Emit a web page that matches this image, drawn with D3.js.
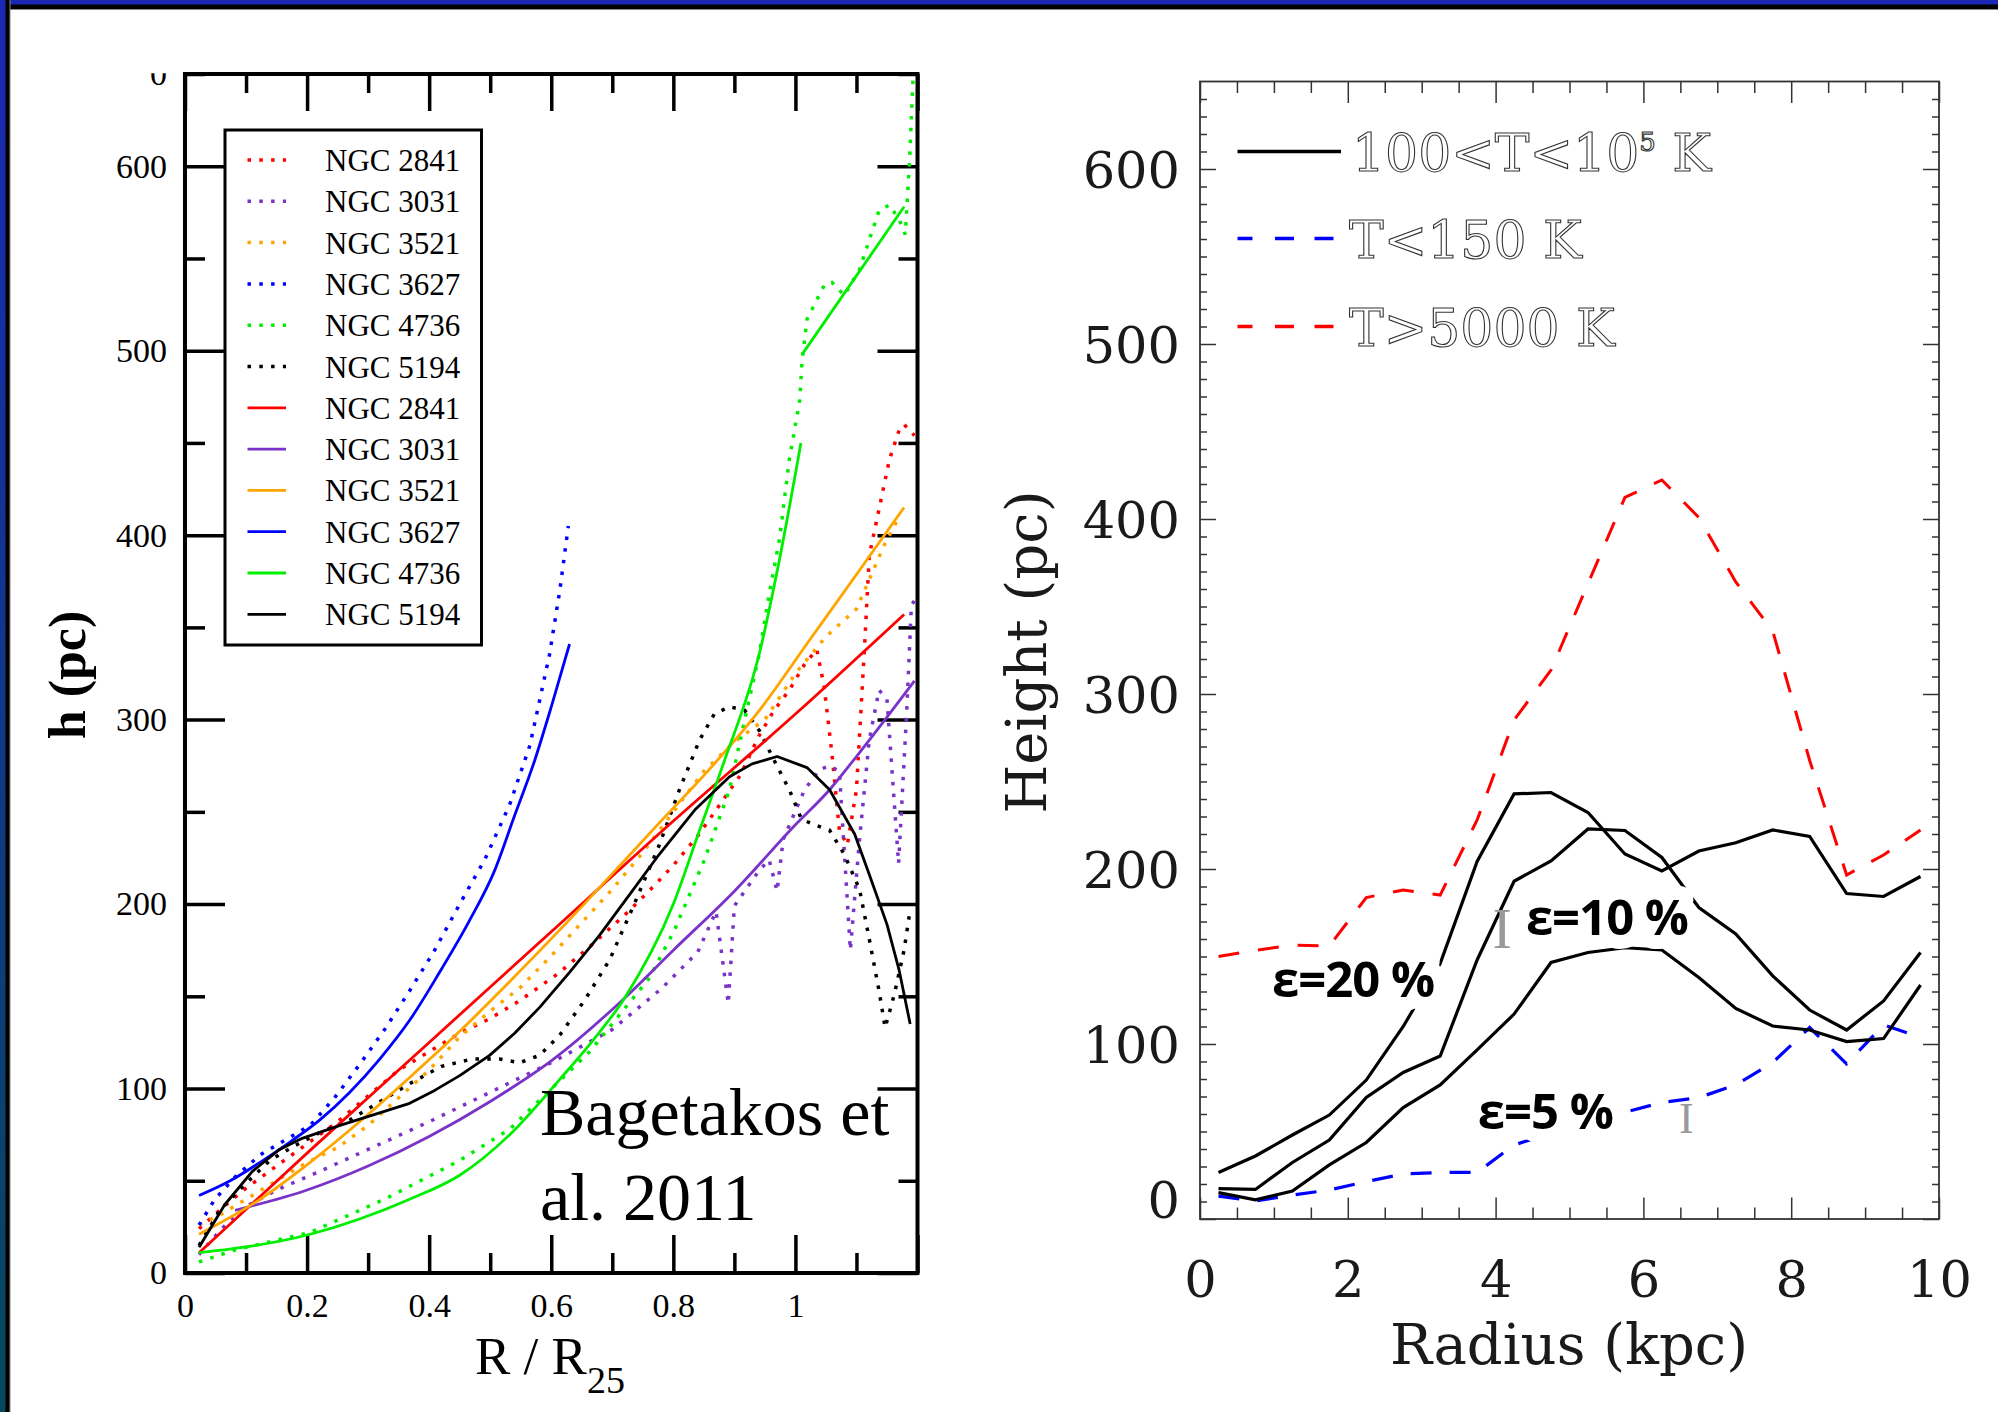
<!DOCTYPE html>
<html>
<head>
<meta charset="utf-8">
<script src="https://cdn.jsdelivr.net/npm/d3@7"></script>
<style>
  body { margin: 0; background: #fff; }
  svg { display: block; }
</style>
</head>
<body>
<svg id="chart"></svg>
<script>
// ---------- left panel data: [R/R25, h (pc)] ----------
const n2841Data = [[0.023,24],[0.06,35],[0.10,46],[0.15,58],[0.20,70],[0.25,82],[0.30,96],[0.35,110],[0.40,120],[0.45,130],[0.50,138],[0.55,148],[0.61,162],[0.66,176],[0.72,194],[0.76,207],[0.80,221],[0.84,237],[0.87,251],[0.91,270],[0.94,291],[0.965,305],[0.99,316],[1.015,330],[1.035,338],[1.047,318],[1.06,281],[1.072,240],[1.085,232],[1.10,262],[1.113,338],[1.121,389],[1.137,414],[1.154,441],[1.17,457],[1.178,460],[1.195,454]];
const n3031Data = [[0.023,10],[0.06,24],[0.10,36],[0.15,45],[0.22,55],[0.30,67],[0.40,82],[0.50,98],[0.60,114],[0.70,132],[0.78,154],[0.84,174],[0.87,196],[0.89,146],[0.90,199],[0.94,218],[0.957,224],[0.97,207],[0.98,235],[1.015,262],[1.04,273],[1.056,275],[1.072,272],[1.09,175],[1.105,235],[1.121,289],[1.137,316],[1.15,311],[1.169,222],[1.182,302],[1.19,362],[1.196,365]];
const n3521Data = [[0.023,26],[0.06,32],[0.10,40],[0.15,50],[0.20,60],[0.25,68],[0.30,80],[0.35,95],[0.40,110],[0.45,128],[0.50,142],[0.55,155],[0.60,172],[0.65,190],[0.70,208],[0.75,228],[0.80,250],[0.85,272],[0.90,288],[0.95,300],[1.00,325],[1.05,345],[1.10,360],[1.146,395],[1.17,410]];
const n3627Data = [[0.023,26],[0.049,40],[0.082,52],[0.123,64],[0.164,72],[0.205,80],[0.245,95],[0.286,113],[0.327,132],[0.368,153],[0.409,175],[0.45,200],[0.491,224],[0.532,254],[0.565,286],[0.597,335],[0.614,370],[0.628,405]];
const n4736Data = [[0.023,6],[0.082,12.5],[0.205,22],[0.327,40],[0.45,61],[0.532,78],[0.663,120],[0.761,160],[0.802,186],[0.851,224],[0.892,262],[0.917,300],[0.941,336],[0.957,368],[0.974,398],[0.99,441],[1.007,473],[1.011,495],[1.019,517],[1.048,536],[1.06,537],[1.08,530],[1.105,544],[1.137,576],[1.154,579],[1.17,571],[1.18,563],[1.187,603],[1.193,650]];
const n5194Data = [[0.023,15],[0.057,34],[0.098,48],[0.139,61],[0.18,69],[0.22,76],[0.27,83],[0.32,93],[0.37,103],[0.42,112],[0.47,116],[0.516,116],[0.548,114],[0.581,118],[0.614,129],[0.655,148],[0.696,170],[0.736,200],[0.777,232],[0.81,262],[0.843,289],[0.867,303],[0.892,307],[0.917,305],[0.941,294],[0.965,278],[0.99,262],[1.01,246],[1.031,243],[1.056,240],[1.08,227],[1.105,208],[1.121,181],[1.137,153],[1.147,133],[1.162,151],[1.178,175],[1.188,197]];

// fitted curves
const n2841Fit = [[0.023,11],[0.2,65],[0.4,125],[0.6,185],[0.8,245],[1.0,303],[1.178,357]];
const n3031Fit = [[0.082,34],[0.2,45],[0.3,58],[0.4,74],[0.5,93],[0.6,115],[0.72,149],[0.8,175],[0.9,207],[1.0,243],[1.056,262],[1.1,280],[1.195,321]];
const n3521Fit = [[0.023,21],[0.123,40],[0.205,60],[0.286,82],[0.368,106],[0.45,131],[0.532,158],[0.614,186],[0.696,215],[0.777,244],[0.859,273],[0.941,305],[1.023,343],[1.105,381],[1.178,415]];
const n3627Fit = [[0.023,42],[0.074,50],[0.123,60],[0.172,71],[0.221,83],[0.27,98],[0.319,116],[0.368,137],[0.417,163],[0.466,191],[0.507,218],[0.54,248],[0.573,278],[0.601,308],[0.63,341]];
const n4736FitInner = [[0.023,11],[0.205,21],[0.368,40],[0.45,53],[0.532,75],[0.614,105],[0.663,124],[0.72,149],[0.8,200],[0.843,240],[0.884,278],[0.941,336],[0.974,387],[1.009,450]];
const n4736FitOuter = [[1.011,498],[1.178,578]];
const n5194Fit = [[0.023,14],[0.065,37],[0.11,55],[0.155,67],[0.192,73],[0.254,80],[0.311,86],[0.368,92],[0.409,99],[0.45,107],[0.499,118],[0.54,130],[0.581,144],[0.63,163],[0.679,183],[0.728,205],[0.777,227],[0.835,251],[0.892,269],[0.929,276],[0.97,280],[1.019,274],[1.056,262],[1.097,238],[1.121,216],[1.15,189],[1.17,164],[1.188,135]];

const leftYTicks = [0, 100, 200, 300, 400, 500, 600];
const leftYMinor = [50, 150, 250, 350, 450, 550, 650];
const leftXTicks = [0, 0.2, 0.4, 0.6, 0.8, 1.0, 1.2];
const leftXMinor = [0.1, 0.3, 0.5, 0.7, 0.9, 1.1];
const leftXLabels = ['0', '0.2', '0.4', '0.6', '0.8', '1', ''];
const galaxies = ['NGC 2841', 'NGC 3031', 'NGC 3521', 'NGC 3627', 'NGC 4736', 'NGC 5194'];
const galaxyColors = ['#ff0000', '#7a33c9', '#ffa500', '#0000ff', '#00ee00', '#000000'];

// ---------- right panel data: radius (kpc) vs height (pc) ----------
const radius = [0.25, 0.75, 1.25, 1.75, 2.25, 2.75, 3.25, 3.75, 4.25, 4.75, 5.25, 5.75, 6.25, 6.75, 7.25, 7.75, 8.25, 8.75, 9.25, 9.75];
const eps20 = [26.6, 36, 48, 59.4, 79.4, 110, 146, 204.3, 242.9, 243.7, 232.3, 208.6, 198.9, 210.3, 215, 222.3, 218.6, 186, 184.3, 195.7];
const eps10 = [17.4, 16.9, 32.3, 45.1, 69.4, 83.7, 93.1, 148, 193, 204.6, 222.9, 222, 206.6, 178, 162.9, 138.9, 119.4, 108, 124.6, 152.3];
const eps5 = [15.1, 10.9, 16, 30.9, 43.7, 63.7, 76.6, 96.6, 117.1, 146.6, 152.3, 155, 153.7, 138, 120.3, 110.3, 108, 101.4, 103.1, 133.7];
const hotGas = [150, 153.5, 156.5, 156, 183.7, 188, 185.1, 228, 285.1, 313.7, 363, 412.3, 422.3, 400.9, 364, 336, 262, 196.6, 208, 222.3];
const coldGas = [13.1, 10.3, 13.7, 16.6, 21.4, 25.7, 26.6, 26.6, 42.3, 49, 55, 61, 66.6, 69.4, 76.6, 89.4, 109.4, 88.6, 110.9, 103.7];

const rightYTicks = [0, 100, 200, 300, 400, 500, 600];
const rightXTicks = [0, 2, 4, 6, 8, 10];
const epsLabels = [
  { text: 'ε=20 %', r: 0.975, h: 126.6 },
  { text: 'ε=10 %', r: 4.41, h: 162.3 },
  { text: 'ε=5 %', r: 3.76, h: 51.4 }
];

const W = 1998, H = 1412;
const svg = d3.select('#chart').attr('width', W).attr('height', H);
svg.append('rect').attr('width', W).attr('height', H).attr('fill', '#fff');

// slide border (top and left)
const defs = svg.append('defs');
const edge = defs.append('linearGradient').attr('id', 'edge')
  .attr('x1', 0).attr('y1', 0).attr('x2', 0).attr('y2', 1);
edge.append('stop').attr('offset', '0%').attr('stop-color', '#1b28b6');
edge.append('stop').attr('offset', '100%').attr('stop-color', '#06485c');
svg.append('rect').attr('width', W).attr('height', 10).attr('fill', '#888');
svg.append('rect').attr('width', W).attr('height', 9).attr('fill', '#000');
svg.append('rect').attr('width', W).attr('height', 4.5).attr('fill', '#1b28b6');
svg.append('rect').attr('width', 10.5).attr('height', H).attr('fill', '#888');
svg.append('rect').attr('width', 9.5).attr('height', H).attr('fill', '#000');
svg.append('rect').attr('width', 5.5).attr('height', H).attr('fill', 'url(#edge)');

// ================= left panel =================
const xL = d3.scaleLinear().domain([0, 1.2]).range([185, 917.5]);
const yL = d3.scaleLinear().domain([0, 650]).range([1273, 74]);
const gL = svg.append('g');
const serif = 'Liberation Serif, Times New Roman, serif';

function tickStyle(g, w, color) {
  g.select('.domain').remove();
  g.selectAll('line').attr('stroke', color).attr('stroke-width', w);
  g.attr('font-family', null).attr('font-size', null);
}

gL.append('g').attr('transform', `translate(${xL(0)},0)`)
  .call(d3.axisLeft(yL).tickValues(leftYTicks).tickSize(-40).tickPadding(18))
  .call(tickStyle, 3.5, '#000')
  .selectAll('text').attr('font-family', serif).attr('font-size', 34).attr('fill', '#000');
gL.append('g').attr('transform', `translate(${xL(0)},0)`)
  .call(d3.axisLeft(yL).tickValues(leftYMinor).tickSize(-20).tickFormat(''))
  .call(tickStyle, 3.5, '#000');
gL.append('g').attr('transform', `translate(${xL(1.2)},0)`)
  .call(d3.axisRight(yL).tickValues(leftYTicks).tickSize(-40).tickFormat(''))
  .call(tickStyle, 3.5, '#000');
gL.append('g').attr('transform', `translate(${xL(1.2)},0)`)
  .call(d3.axisRight(yL).tickValues(leftYMinor).tickSize(-19).tickFormat(''))
  .call(tickStyle, 3.5, '#000');
gL.append('g').attr('transform', `translate(0,${yL(0)})`)
  .call(d3.axisBottom(xL).tickValues(leftXTicks).tickSize(-38).tickPadding(20)
    .tickFormat((d, i) => leftXLabels[i]))
  .call(tickStyle, 3.5, '#000')
  .selectAll('text').attr('font-family', serif).attr('font-size', 34).attr('fill', '#000');
gL.append('g').attr('transform', `translate(0,${yL(0)})`)
  .call(d3.axisBottom(xL).tickValues(leftXMinor).tickSize(-20).tickFormat(''))
  .call(tickStyle, 3.5, '#000');
gL.append('g').attr('transform', `translate(0,${yL(650)})`)
  .call(d3.axisTop(xL).tickValues(leftXTicks).tickSize(-37).tickFormat(''))
  .call(tickStyle, 3.5, '#000');
gL.append('g').attr('transform', `translate(0,${yL(650)})`)
  .call(d3.axisTop(xL).tickValues(leftXMinor).tickSize(-19).tickFormat(''))
  .call(tickStyle, 3.5, '#000');

// clipped top label
defs.append('clipPath').attr('id', 'topclip').append('rect')
  .attr('x', 100).attr('y', yL(650) - 0.7).attr('width', 80).attr('height', 40);
gL.append('text').attr('clip-path', 'url(#topclip)')
  .attr('x', xL(0) - 18).attr('y', yL(650)).attr('dy', '0.32em')
  .attr('text-anchor', 'end').attr('font-family', serif).attr('font-size', 34)
  .text('0');

// frame
gL.append('rect').attr('x', xL(0)).attr('y', yL(650))
  .attr('width', xL(1.2) - xL(0)).attr('height', yL(0) - yL(650))
  .attr('fill', 'none').attr('stroke', '#000').attr('stroke-width', 4);

const lineL = d3.line().x(d => xL(d[0])).y(d => yL(d[1]));
const smoothL = d3.line().x(d => xL(d[0])).y(d => yL(d[1])).curve(d3.curveMonotoneX);

const dataSeries = [n2841Data, n3031Data, n3521Data, n3627Data, n4736Data, n5194Data];
const fitSeries = [[n2841Fit], [n3031Fit], [n3521Fit], [n3627Fit], [n4736FitInner, n4736FitOuter], [n5194Fit]];

dataSeries.forEach((s, i) => {
  gL.append('path').datum(s).attr('d', lineL)
    .attr('fill', 'none').attr('stroke', galaxyColors[i])
    .attr('stroke-width', 3.5).attr('stroke-dasharray', '3.5 8.3');
});
fitSeries.forEach((parts, i) => {
  parts.forEach(s => {
    gL.append('path').datum(s).attr('d', i === 5 ? lineL : smoothL)
      .attr('fill', 'none').attr('stroke', galaxyColors[i])
      .attr('stroke-width', 2.8).attr('stroke-linejoin', 'round');
  });
});

// legend
const legL = gL.append('g');
legL.append('rect').attr('x', 225).attr('y', 130).attr('width', 256.5).attr('height', 515)
  .attr('fill', '#fff').attr('stroke', '#000').attr('stroke-width', 3);
const legRows = galaxies.map((n, i) => ({ name: n, color: galaxyColors[i], dotted: true }))
  .concat(galaxies.map((n, i) => ({ name: n, color: galaxyColors[i], dotted: false })));
legRows.forEach((d, i) => {
  const y = 160 + i * 41.3;
  legL.append('line').attr('x1', 247.5).attr('x2', 286).attr('y1', y).attr('y2', y)
    .attr('stroke', d.color).attr('stroke-width', d.dotted ? 3.5 : 2.8)
    .attr('stroke-dasharray', d.dotted ? '3.5 8.3' : null);
  legL.append('text').attr('x', 325).attr('y', y + 11)
    .attr('font-family', serif).attr('font-size', 31).text(d.name);
});

// labels
gL.append('text').attr('transform', 'translate(85,675) rotate(-90)')
  .attr('text-anchor', 'middle').attr('font-family', serif)
  .attr('font-size', 52).attr('font-weight', 'bold').text('h (pc)');
const xt = gL.append('text').attr('x', 475).attr('y', 1374)
  .attr('font-family', serif).attr('font-size', 53);
xt.append('tspan').text('R / R');
xt.append('tspan').attr('font-size', 38).attr('dy', 19).text('25');
gL.append('text').attr('x', 540).attr('y', 1135)
  .attr('font-family', serif).attr('font-size', 68).text('Bagetakos et');
gL.append('text').attr('x', 540).attr('y', 1220)
  .attr('font-family', serif).attr('font-size', 68).text('al. 2011');

// ================= right panel =================
const xR = d3.scaleLinear().domain([0, 10]).range([1200, 1939]);
const yR = d3.scaleLinear().domain([0, 650]).range([1219, 81.5]);
const gR = svg.append('g');
const hershey = 'DejaVu Serif, serif';
const axisGray = '#333';
const minorY = d3.range(10, 650, 10).filter(v => v % 100 !== 0);
const minorX = d3.range(0.5, 10, 0.5).filter(v => v % 2 !== 0);

gR.append('g').attr('transform', `translate(${xR(0)},0)`)
  .call(d3.axisLeft(yR).tickValues(rightYTicks).tickSize(-16).tickPadding(20))
  .call(tickStyle, 1.5, axisGray)
  .selectAll('text').attr('font-family', hershey).attr('font-size', 51).attr('fill', '#1a1a1a')
  .attr('dy', d => d === 0 ? '-0.03em' : '0.36em');
gR.append('g').attr('transform', `translate(${xR(0)},0)`)
  .call(d3.axisLeft(yR).tickValues(minorY).tickSize(-7).tickFormat(''))
  .call(tickStyle, 1.5, axisGray);
gR.append('g').attr('transform', `translate(${xR(10)},0)`)
  .call(d3.axisRight(yR).tickValues(rightYTicks).tickSize(-16).tickFormat(''))
  .call(tickStyle, 1.5, axisGray);
gR.append('g').attr('transform', `translate(${xR(10)},0)`)
  .call(d3.axisRight(yR).tickValues(minorY).tickSize(-7).tickFormat(''))
  .call(tickStyle, 1.5, axisGray);
gR.append('g').attr('transform', `translate(0,${yR(0)})`)
  .call(d3.axisBottom(xR).tickValues(rightXTicks).tickSize(-21.5).tickPadding(42))
  .call(tickStyle, 1.5, axisGray)
  .selectAll('text').attr('font-family', hershey).attr('font-size', 51).attr('fill', '#1a1a1a');
gR.append('g').attr('transform', `translate(0,${yR(0)})`)
  .call(d3.axisBottom(xR).tickValues(minorX).tickSize(-11.5).tickFormat(''))
  .call(tickStyle, 1.5, axisGray);
gR.append('g').attr('transform', `translate(0,${yR(650)})`)
  .call(d3.axisTop(xR).tickValues(rightXTicks).tickSize(-21.5).tickFormat(''))
  .call(tickStyle, 1.5, axisGray);
gR.append('g').attr('transform', `translate(0,${yR(650)})`)
  .call(d3.axisTop(xR).tickValues(minorX).tickSize(-11.5).tickFormat(''))
  .call(tickStyle, 1.5, axisGray);

gR.append('rect').attr('x', xR(0)).attr('y', yR(650))
  .attr('width', xR(10) - xR(0)).attr('height', yR(0) - yR(650))
  .attr('fill', 'none').attr('stroke', axisGray).attr('stroke-width', 1.8);

const lineR = d3.line().x((d, i) => xR(radius[i])).y(d => yR(d));
gR.append('path').datum(hotGas).attr('d', lineR).attr('fill', 'none')
  .attr('stroke', '#ff0000').attr('stroke-width', 3).attr('stroke-dasharray', '21 19');
gR.append('path').datum(coldGas).attr('d', lineR).attr('fill', 'none')
  .attr('stroke', '#0000ff').attr('stroke-width', 3.2).attr('stroke-dasharray', '21 18');
[eps20, eps10, eps5].forEach(s => {
  gR.append('path').datum(s).attr('d', lineR).attr('fill', 'none')
    .attr('stroke', '#000').attr('stroke-width', 3.2).attr('stroke-linejoin', 'miter');
});

// efficiency labels with white halo
gR.selectAll('.eps').data(epsLabels).join('text').attr('class', 'eps')
  .attr('x', d => xR(d.r)).attr('y', d => yR(d.h))
  .attr('font-family', 'Open Sans, DejaVu Sans, sans-serif')
  .attr('font-weight', 'bold').attr('font-size', 49).attr('letter-spacing', -1)
  .attr('fill', '#000').attr('stroke', '#fff').attr('stroke-width', 28)
  .attr('stroke-linejoin', 'round').attr('paint-order', 'stroke')
  .text(d => d.text);

// stray cursor marks
gR.append('text').attr('x', xR(4.09)).attr('y', yR(155)).attr('text-anchor', 'middle')
  .attr('font-family', serif).attr('font-size', 58).attr('fill', '#999').text('I');
gR.append('text').attr('x', xR(6.58)).attr('y', yR(49.4)).attr('text-anchor', 'middle')
  .attr('font-family', serif).attr('font-size', 44).attr('fill', '#999').text('I');

// legend
const legR = [
  { y: 151.5, color: '#000', dash: null, x2: 1341 },
  { y: 238.5, color: '#0000ff', dash: '15 22.5 19 20.5 19', x2: 1334 },
  { y: 326.5, color: '#ff0000', dash: '15 22.5 19 20.5 19', x2: 1334 }
];
legR.forEach(d => {
  gR.append('line').attr('x1', 1237.5).attr('x2', d.x2).attr('y1', d.y).attr('y2', d.y)
    .attr('stroke', d.color).attr('stroke-width', 3.5).attr('stroke-dasharray', d.dash);
});
const legText = gR.append('g').attr('font-family', hershey).attr('font-size', 52)
  .attr('fill', 'none').attr('stroke', '#333').attr('stroke-width', 1.1);
const t1 = legText.append('text').attr('x', 1352).attr('y', legR[0].y + 19);
t1.append('tspan').text('100<T<10');
t1.append('tspan').attr('font-size', 26).attr('dy', -20).text('5');
t1.append('tspan').attr('dy', 20).text('  K');
legText.append('text').attr('x', 1349).attr('y', legR[1].y + 19).text('T<150 K');
legText.append('text').attr('x', 1349).attr('y', legR[2].y + 19).text('T>5000 K');

// axis titles
gR.append('text').attr('transform', 'translate(1046,652) rotate(-90)')
  .attr('text-anchor', 'middle').attr('font-family', hershey).attr('font-size', 56)
  .attr('fill', '#1a1a1a').text('Height (pc)');
gR.append('text').attr('x', 1569).attr('y', 1364)
  .attr('text-anchor', 'middle').attr('font-family', hershey).attr('font-size', 56)
  .attr('fill', '#1a1a1a').text('Radius (kpc)');
</script>
</body>
</html>
